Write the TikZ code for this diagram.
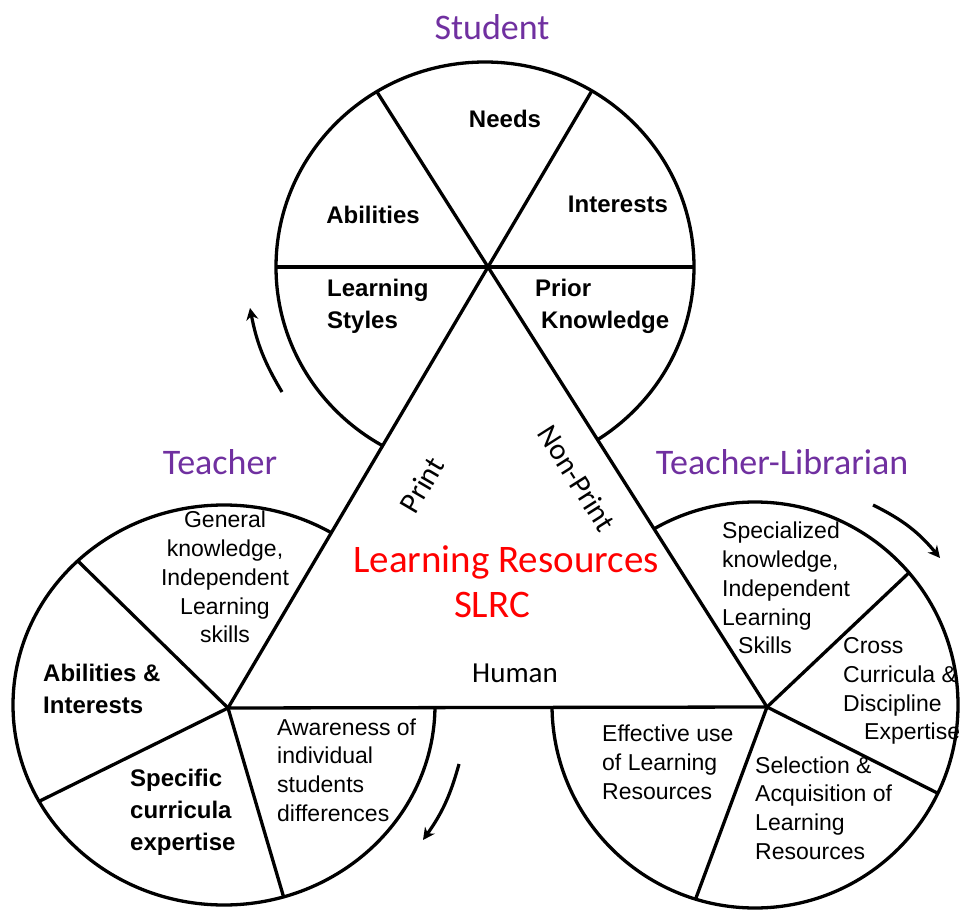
\documentclass[tikz,border=0pt]{standalone}
\usepackage{fontspec}
\setmainfont{Liberation Sans}
\newfontfamily\calfont{Carlito}
\usetikzlibrary{arrows.meta,calc}
\definecolor{purp}{RGB}{112,48,160}
\definecolor{lrred}{RGB}{255,0,0}
\tikzset{
 rim/.style={line width=3.3pt},
 spoke/.style={line width=3.3pt},
 bt/.style={inner sep=0pt, font=\bfseries\fontsize{24}{32}\selectfont, align=left},
 rt/.style={inner sep=0pt, font=\fontsize{23}{28.8}\selectfont, align=left},
 role/.style={inner sep=0pt, text=purp, font=\calfont\fontsize{36}{40}\selectfont},
 tri/.style={inner sep=0pt, font=\calfont\fontsize{30}{34}\selectfont},
 res/.style={inner sep=0pt, text=lrred, font=\calfont\fontsize{39}{43}\selectfont},
 cyc/.style={line width=3.2pt, -{Stealth[length=12pt,width=12pt]}},
}
\begin{document}
\begin{tikzpicture}[x=1pt,y=1pt,line join=round]
\useasboundingbox (0,0) rectangle (960,911);
% triangle vertices
\coordinate (S) at (488,644);
\coordinate (T) at (228,203);
\coordinate (L) at (767,204);
% circle centres
\coordinate (Sc) at (485,644);
\coordinate (Tc) at (224,206);
\coordinate (Lc) at (755,206);
% circles
\draw[rim] (Sc) ellipse[x radius=209pt, y radius=205pt];
\draw[rim] (Tc) ellipse[x radius=211pt, y radius=200pt];
\draw[rim] (Lc) circle[radius=203pt];
\fill[white] (S) -- (T) -- (L) -- cycle;
% student spokes
\begin{scope}
 \clip (Sc) ellipse[x radius=209pt, y radius=205pt];
 \draw[spoke] ($(S)+(-300,0)$) -- ($(S)+(300,0)$);
 \draw[spoke] (S) -- ($(T)!1.7!(S)$);
 \draw[spoke] (S) -- ($(L)!1.7!(S)$);
\end{scope}
% teacher spokes
\begin{scope}
 \clip (Tc) ellipse[x radius=211pt, y radius=200pt];
 \draw[spoke] (T) -- ++(135.6:300pt);
 \draw[spoke] (T) -- ++(206.3:300pt);
 \draw[spoke] (T) -- ++(286.4:300pt);
\end{scope}
% teacher-librarian spokes
\begin{scope}
 \clip (Lc) circle[radius=203pt];
 \draw[spoke] (L) -- ++(43.4:300pt);
 \draw[spoke] (L) -- ++(333.2:300pt);
 \draw[spoke] (L) -- ++(249.6:300pt);
\end{scope}
% triangle
\draw[rim] (S) -- (T) -- (L) -- cycle;

% role labels
\node[role] (student) at (492,884) {Student};
\node[role] (teacher) at (220,449) {Teacher};
\node[role] (tlib) at (782,449) {Teacher-Librarian};

% student sectors
\node[bt] (needs) at (505,792) {Needs};
\node[bt] (interests) at (618,707) {Interests};
\node[bt] (abilities) at (373,696) {Abilities};
\node[bt, anchor=west] (lstyles) at (327,605) {Learning\\Styles};
\node[bt, anchor=west] (prior) at (535,605) {Prior\\\hspace*{6pt}Knowledge};

% teacher sectors
\node[rt, align=center] (general) at (225,334) {General\\knowledge,\\Independent\\Learning\\skills};
\node[bt, anchor=west] (abint) at (43,222) {Abilities \&\\Interests};
\node[bt, anchor=west] (specific) at (130,99) {Specific\\curricula\\expertise};
\node[rt, anchor=west] (aware) at (277,141) {Awareness of\\individual\\students\\differences};

% teacher-librarian sectors
\node[rt, anchor=west] (special) at (722,323) {Specialized\\knowledge,\\Independent\\Learning\\\hspace*{16pt}Skills};
\node[rt, anchor=west] (cross) at (843,220) {Cross\\Curricula \&\\Discipline\\\hspace*{21pt}Expertise};
\node[rt, anchor=west] (effective) at (602,149) {Effective use\\of Learning\\Resources};
\node[rt, anchor=west] (selection) at (755,103) {Selection \&\\Acquisition of\\Learning\\Resources};

% triangle texts
\node[tri, rotate=59.5] (print) at (422,426) {Print};
\node[tri, rotate=-57.6] (nonprint) at (577,433) {Non-Print};
\node[res] (lr) at (506,349) {Learning Resources};
\node[res] (slrc) at (492,306) {SLRC};
\node[tri, font=\calfont\fontsize{29}{32}\selectfont] (human) at (515,238) {Human};

% cycle arrows
\coordinate (a1s) at (282,519);
\coordinate (a1e) at (250,603);
\coordinate (a2s) at (459,147);
\coordinate (a2e) at (423,71);
\coordinate (a3s) at (873,406);
\coordinate (a3e) at (940,353);
\draw[cyc] (a1s) to[bend left=10] (a1e);
\draw[cyc] (a2s) to[bend left=10] (a2e);
\draw[cyc] (a3s) to[bend left=12] (a3e);
\end{tikzpicture}
\end{document}
